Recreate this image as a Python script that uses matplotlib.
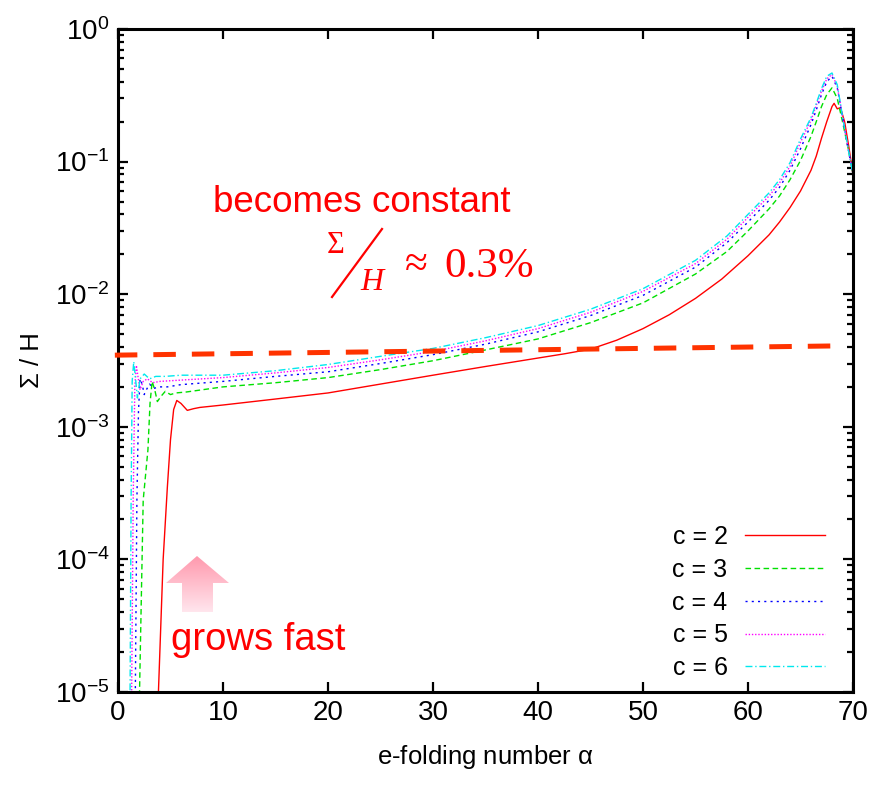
import numpy as np
import matplotlib
matplotlib.use('agg')
import matplotlib.pyplot as plt
from matplotlib.lines import Line2D
from matplotlib.patches import Polygon
from matplotlib.ticker import LogLocator, FixedLocator

# --- data ---
a2 = [3.7, 3.85, 4.3, 4.7, 5.0, 5.3, 5.6, 6.0, 6.6, 7.2, 7.8, 10, 15, 20, 25, 30, 35, 40, 42.5, 45,
      47.5, 50, 52.5, 55, 57.5, 60, 62, 63, 64, 65, 66, 66.5, 67, 67.5, 68.0, 68.2, 68.5, 68.8, 69.2,
      69.6, 70]
s2 = [5e-6, 1e-5, 1e-4, 3.5e-4, 8e-4, 1.35e-3, 1.58e-3, 1.5e-3, 1.33e-3, 1.37e-3, 1.4e-3, 1.46e-3,
      1.62e-3, 1.8e-3, 2.1e-3, 2.45e-3, 2.85e-3, 3.3e-3, 3.55e-3, 3.85e-3, 4.5e-3, 5.5e-3, 7.0e-3,
      9.3e-3, 1.3e-2, 1.95e-2, 2.8e-2, 3.5e-2, 4.5e-2, 6.0e-2, 8.6e-2, 0.11, 0.15, 0.2, 0.26, 0.275,
      0.25, 0.255, 0.2, 0.13, 0.08]

a3 = [1.95, 2.05, 2.4, 2.85, 3.05, 3.25, 3.5, 3.75, 4.1, 4.5, 5.0, 5.5, 6.5, 10, 15, 20, 25, 30,
      35, 40, 45, 50, 55, 58, 60, 62, 63, 64, 65, 66, 66.5, 67, 67.5, 68.0, 68.5, 69, 69.5, 70]
s3 = [5e-6, 1e-5, 2.8e-4, 6.7e-4, 1.5e-3, 2.2e-3, 1.9e-3, 1.55e-3, 1.7e-3, 1.85e-3, 1.75e-3, 1.8e-3,
      1.83e-3, 2.0e-3, 2.15e-3, 2.35e-3, 2.7e-3, 3.15e-3, 3.8e-3, 4.6e-3, 6.1e-3, 8.6e-3, 1.42e-2,
      2.1e-2, 3.0e-2, 4.4e-2, 5.5e-2, 7.3e-2, 0.102, 0.155, 0.2, 0.26, 0.32, 0.36, 0.3, 0.2, 0.13, 0.08]

a4 = [1.55, 1.65, 1.8, 1.95, 2.1, 2.3, 2.5, 2.7, 3.0, 3.4, 4.0, 4.7, 6, 10, 15, 20, 25, 30, 35, 40,
      45, 50, 55, 58, 60, 62, 63, 64, 65, 66, 66.5, 67, 67.5, 68.0, 68.5, 69, 69.5, 70]
s4 = [5e-6, 1e-5, 2.8e-4, 1.3e-3, 2.3e-3, 2.1e-3, 1.75e-3, 1.9e-3, 2.1e-3, 1.95e-3, 2.0e-3, 2.0e-3,
      2.08e-3, 2.2e-3, 2.4e-3, 2.6e-3, 3.0e-3, 3.5e-3, 4.2e-3, 5.2e-3, 6.9e-3, 9.8e-3, 1.6e-2, 2.45e-2,
      3.5e-2, 5.1e-2, 6.4e-2, 8.6e-2, 0.125, 0.19, 0.245, 0.32, 0.4, 0.44, 0.36, 0.22, 0.13, 0.08]

a5 = [1.2, 1.3, 1.45, 1.6, 1.75, 1.9, 2.1, 2.4, 2.8, 3.3, 4, 6, 10, 15, 20, 25, 30, 35, 40, 45, 50,
      55, 58, 60, 62, 63, 64, 65, 66, 66.5, 67, 67.5, 68, 68.5, 69, 69.5, 70]
s5 = [5e-6, 1e-5, 3e-4, 2.0e-3, 2.9e-3, 2.4e-3, 1.9e-3, 2.2e-3, 2.3e-3, 2.15e-3, 2.2e-3, 2.25e-3,
      2.35e-3, 2.55e-3, 2.8e-3, 3.2e-3, 3.7e-3, 4.45e-3, 5.5e-3, 7.3e-3, 1.05e-2, 1.7e-2, 2.6e-2,
      3.8e-2, 5.5e-2, 6.9e-2, 9.2e-2, 0.14, 0.205, 0.265, 0.34, 0.42, 0.455, 0.37, 0.22, 0.13, 0.08]

a6 = [1.05, 1.15, 1.25, 1.35, 1.5, 1.65, 1.85, 2.1, 2.5, 3.0, 3.6, 4.5, 6, 10, 15, 20, 25, 30, 35,
      40, 45, 50, 55, 58, 60, 62, 63, 64, 65, 66, 66.5, 67, 67.5, 68, 68.5, 69, 69.5, 70]
s6 = [5e-6, 1e-5, 3e-4, 2.2e-3, 3.1e-3, 2.4e-3, 1.65e-3, 2.3e-3, 2.5e-3, 2.3e-3, 2.4e-3, 2.4e-3,
      2.45e-3, 2.45e-3, 2.65e-3, 2.95e-3, 3.4e-3, 3.9e-3, 4.7e-3, 5.8e-3, 7.7e-3, 1.1e-2, 1.8e-2,
      2.75e-2, 4.0e-2, 5.8e-2, 7.3e-2, 9.8e-2, 0.148, 0.215, 0.275, 0.355, 0.44, 0.466, 0.38, 0.22,
      0.13, 0.08]

labels = ['c = 2', 'c = 3', 'c = 4', 'c = 5', 'c = 6']
const_a = [-0.3, 68]
const_s = [3.47e-3, 4.07e-3]

xticks = [0, 10, 20, 30, 40, 50, 60, 70]

plt.rcParams['font.family'] = ['Liberation Sans', 'DejaVu Sans']
plt.rcParams['mathtext.default'] = 'regular'

fig = plt.figure(figsize=(8.77, 7.87), dpi=100)
W, H = 877, 787
ax = fig.add_axes([118 / W, 1 - 692 / H, 735 / W, 663 / H])

styles = [
    dict(color='#ff0000', ls='-'),
    dict(color='#00e000', ls=(0, (4, 2.5))),
    dict(color='#0000ff', ls=(0, (1.5, 3))),
    dict(color='#ff00ff', ls=(0, (1, 1.3))),
    dict(color='#00e8ee', ls=(0, (5, 2, 1, 2))),
]
series = [(a2, s2), (a3, s3), (a4, s4), (a5, s5), (a6, s6)]
handles = []
for (a, s), st, lab in zip(series, styles, labels):
    h, = ax.plot(a, s, lw=1.0, label=lab, **st)
    handles.append(h)

ax.plot(const_a, const_s, color='#ff3300', lw=3.6, ls=(0, (4.5, 3.2)), clip_on=False, zorder=5)

ax.set_yscale('log')
ax.set_xlim(0, 70)
ax.set_ylim(1e-5, 1)
ax.xaxis.set_major_locator(FixedLocator(xticks))
ax.xaxis.set_minor_locator(FixedLocator([]))
ax.yaxis.set_major_locator(LogLocator(base=10, numticks=10))
ax.yaxis.set_minor_locator(LogLocator(base=10, subs=np.arange(2, 10), numticks=10))
ax.yaxis.set_minor_formatter(plt.NullFormatter())
ax.tick_params(which='both', direction='in', top=True, right=True, width=1.6, labelsize=20)
ax.tick_params(which='major', length=7, pad=6)
ax.tick_params(which='minor', length=4)
for sp in ax.spines.values():
    sp.set_linewidth(2.2)

ax.set_xlabel(r'e-folding number $\alpha$', fontsize=18.5, labelpad=12)
ax.set_ylabel('Σ / H', fontsize=18.5, labelpad=8)

leg = ax.legend(handles=handles, loc='lower right', bbox_to_anchor=(0.962, 0.018),
                frameon=False, markerfirst=False, fontsize=18, handlelength=3.2,
                handletextpad=0.7, labelspacing=0.35, borderpad=0, borderaxespad=0)

red = '#ff0000'
fig.text(213 / W, 1 - 212 / H, 'becomes constant', color=red, fontsize=26.5, va='baseline')
fig.text(171 / W, 1 - 650 / H, 'grows fast', color=red, fontsize=27.5, va='baseline')

serif = ['Liberation Serif', 'DejaVu Serif']
fig.text(327 / W, 1 - 253 / H, 'Σ', color=red, fontsize=22, family=serif, va='baseline')
fig.text(360 / W, 1 - 290 / H, 'H', color=red, fontsize=23, family=serif, style='italic', va='baseline')
fig.text(405 / W, 1 - 276 / H, '≈', color=red, fontsize=30, family=serif, va='baseline')
fig.text(444 / W, 1 - 277 / H, '0.3%', color=red, fontsize=31, family=serif, va='baseline')
fig.add_artist(Line2D([332 / W, 382 / W], [1 - 297 / H, 1 - 229 / H], color=red, lw=1.6))

# pink gradient arrow
bx0, bx1, by0, by1 = 166, 229, 556, 612
aax = fig.add_axes([bx0 / W, 1 - by1 / H, (bx1 - bx0) / W, (by1 - by0) / H])
aax.set_axis_off()
grad = np.linspace(0, 1, 100).reshape(-1, 1)
top_c = np.array([1.0, 0.60, 0.68])
bot_c = np.array([1.0, 0.90, 0.93])
img = top_c[None, None, :] * (1 - grad[:, :, None]) + bot_c[None, None, :] * grad[:, :, None]
im = aax.imshow(img, extent=(0, 1, 0, 1), aspect='auto', origin='upper')
def fx(x):
    return (x - bx0) / (bx1 - bx0)
def fy(y):
    return (by1 - y) / (by1 - by0)
pts = [(fx(197), fy(556)), (fx(229), fy(583)), (fx(213), fy(583)), (fx(213), fy(612)),
       (fx(182), fy(612)), (fx(182), fy(583)), (fx(166), fy(583))]
poly = Polygon(pts, closed=True, transform=aax.transData, facecolor='none', edgecolor='none')
aax.add_patch(poly)
im.set_clip_path(poly)
aax.set_xlim(0, 1)
aax.set_ylim(0, 1)

fig.savefig('out.png', dpi=100)
